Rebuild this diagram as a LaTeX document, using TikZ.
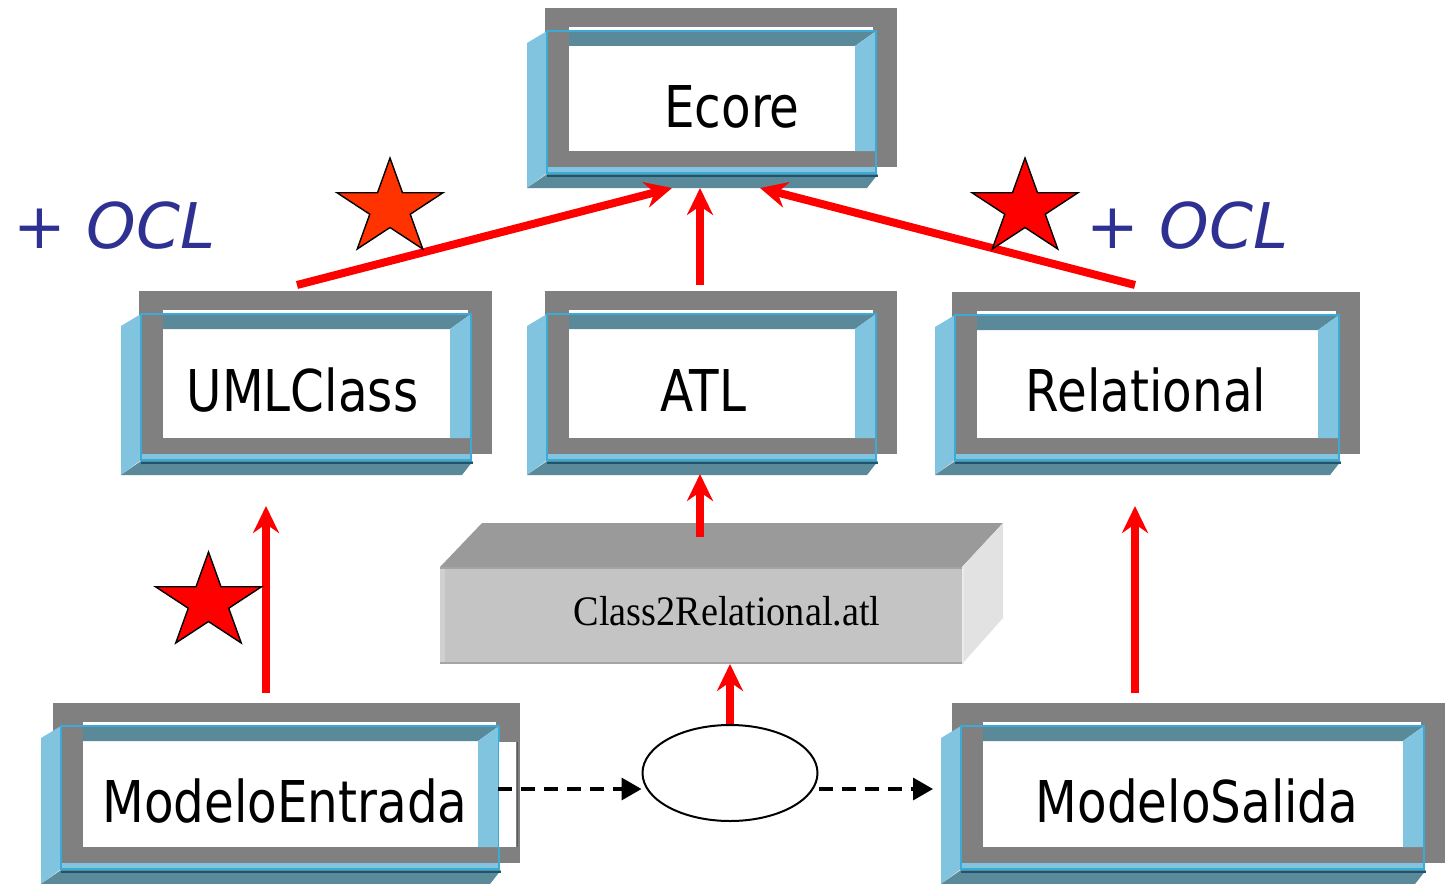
\documentclass[tikz,border=0pt]{standalone}
\usepackage{fontspec}
\usepackage{graphicx}
\usetikzlibrary{arrows.meta,shapes.geometric}
\newfontfamily\boxfont{DejaVu Sans}
\newfontfamily\oclfont{DejaVu Sans Oblique}
\newfontfamily\atlfont{Liberation Serif}
\definecolor{lblue}{RGB}{128,196,224}
\definecolor{tealband}{RGB}{90,138,154}
\definecolor{gframe}{RGB}{128,128,128}
\definecolor{edgeblue}{RGB}{60,170,214}
\definecolor{darkteal}{RGB}{30,85,110}
\definecolor{oclblue}{RGB}{46,49,146}
\definecolor{starorange}{RGB}{255,51,0}
\definecolor{ctop}{RGB}{154,154,154}
\definecolor{cfront}{RGB}{196,196,196}
\definecolor{cside}{RGB}{226,226,226}
\newcommand\bt[1]{\scalebox{0.84}[1]{#1}}
% framed 3D box: #1 fx0, #2 fy0, #3 fx1, #4 fy1, #5 left offset of the gray frame
\newcommand\mfbox[5]{%
  \fill[gframe] (#1-#5,#2-23) rectangle (#3+21,#4-6);
  \fill[white] (#1+22,#2-4) rectangle (#3-3,#4-22);
  \fill[lblue] (#1-20,#2+12) -- (#1,#2) -- (#1,#4) -- (#1-20,#4+15) -- cycle;
  \fill[tealband] (#1+22,#2) -- (#3,#2) -- (#3-21,#2+15) -- (#1+22,#2+15) -- cycle;
  \fill[lblue] (#3-21,#2+15) -- (#3,#2) -- (#3,#4-22) -- (#3-21,#4-22) -- cycle;
  \fill[lblue] (#1,#4-6) rectangle (#3,#4);
  \fill[tealband] (#1-20,#4+15) -- (#1,#4+1) -- (#3+2,#4+1) -- (#3-9,#4+15) -- cycle;
  \draw[darkteal, line width=2pt] (#1,#4+3) -- (#3+2,#4+3);
  \draw[edgeblue, line width=1.2pt] (#1,#2) rectangle (#3,#4);
}
% star: #1 cx, #2 cy, #3 colour
\newcommand\starat[3]{%
  \begin{scope}[shift={(#1,#2)}, xscale=55.7, yscale=50.3]
    \filldraw[fill=#3, draw=black, line width=1.4pt, line join=miter]
      (0,-1) -- (0.2245,-0.309) -- (0.951,-0.309) -- (0.3633,0.118) -- (0.588,0.809)
      -- (0,0.382) -- (-0.588,0.809) -- (-0.3633,0.118) -- (-0.951,-0.309)
      -- (-0.2245,-0.309) -- cycle;
  \end{scope}}
\tikzset{
  area/.style={draw=none, fill=none, inner sep=0, outer sep=0, rectangle},
  boxtext/.style={font=\boxfont\fontsize{57.6}{60}\selectfont, inner sep=0, anchor=base},
  ocltext/.style={font=\oclfont\fontsize{63}{66}\selectfont, text=oclblue, inner sep=0, anchor=base},
  redarr/.style={draw=red, line width=8pt, -{Stealth[length=27pt,width=26pt,inset=9pt]}},
  dasharr/.style={draw=black, line width=3.5pt, dash pattern=on 14pt off 9pt,
    -{Triangle[length=20pt,width=22pt]}},
}
\begin{document}
\begin{tikzpicture}[x=1pt,y=-1pt]
\useasboundingbox (0,0) rectangle (1455,883);
\fill[white] (0,0) rectangle (1455,883);

% boxes
\mfbox{547}{31}{876}{173}{2}
\mfbox{141}{314}{471}{460}{2}
\mfbox{547}{314}{876}{460}{2}
\mfbox{955}{315}{1339}{460}{3}
\mfbox{61}{726}{499}{869}{8}
% hollow right bar of ModeloEntrada
\fill[white] (499,742) rectangle (516,847);
\draw[gframe!70!black, line width=0.8pt] (517,742) -- (517,847);
\mfbox{961}{726}{1424}{869}{9}

% Class2Relational block
\fill[ctop] (440,567) -- (482,523) -- (1003,523) -- (962,567) -- cycle;
\fill[cside] (962,567) -- (1003,523) -- (1003,618) -- (962,664) -- cycle;
\fill[cfront] (440,567) rectangle (962,664);
\fill[cfront!80!white] (440,567) rectangle (445,664);
\draw[ctop!90!white, line width=1.5pt] (440,568) -- (962,568);
\draw[ctop!90!white, line width=1.5pt] (440,663) -- (962,663);
\draw[white!92!black, line width=1.5pt] (963,567) -- (963,664);

% named areas
\node[area, minimum width=370pt, minimum height=181pt] (ecore) at (712,97.5) {};
\node[area, minimum width=368pt, minimum height=189pt] (uml) at (306,379.5) {};
\node[area, minimum width=370pt, minimum height=189pt] (atl) at (712,379.5) {};
\node[area, minimum width=425pt, minimum height=189pt] (rel) at (1145.5,379.5) {};
\node[area, minimum width=484pt, minimum height=190pt] (me) at (277,788) {};
\node[area, minimum width=512pt, minimum height=190pt] (ms) at (1189,788) {};
\node[area, minimum width=563pt, minimum height=141pt] (c2r) at (721.5,593.5) {};
\node[draw=black, line width=2pt, fill=white, ellipse, minimum width=175pt, minimum height=96pt, inner sep=0] (ell) at (730,773) {};

% texts
\node[boxtext] (tEcore) at (732,127) {\bt{Ecore}};
\node[boxtext] (tUml) at (302.5,411) {\bt{UMLClass}};
\node[boxtext] (tAtl) at (703,411) {\bt{ATL}};
\node[boxtext] (tRel) at (1146,411) {\bt{Relational}};
\node[boxtext] (tMe) at (285,822) {\bt{ModeloEntrada}};
\node[boxtext] (tMs) at (1197,822) {\bt{ModeloSalida}};
\node[font=\atlfont\fontsize{42}{44}\selectfont, inner sep=0, anchor=base] (tC2r) at (727,625) {\scalebox{0.91}[1]{Class2Relational.atl}};
\node[ocltext] (ocl1) at (114.5,248) {+ OCL};
\node[ocltext] (ocl2) at (1187.5,248) {+ OCL};

% red connectors
\draw[redarr] ([xshift=-9pt]uml.north) -- ([xshift=-40pt]ecore.south);
\draw[redarr] ([xshift=-12pt]atl.north) -- ([xshift=-12pt]ecore.south);
\draw[redarr] ([xshift=-10.5pt]rel.north) -- ([xshift=48pt]ecore.south);
\draw[redarr] ([xshift=-21.5pt,yshift=-14pt]c2r.north) -- ([xshift=-12pt]atl.south);
\draw[redarr] (ell.north) -- (ell.north |- c2r.south);
\draw[redarr, shorten >=32pt] ([xshift=-11pt]me.north) -- ([xshift=-40pt]uml.south);
\draw[redarr, shorten >=32pt] ([xshift=-54pt]ms.north) -- ([xshift=-10.5pt]rel.south);

% dashed connectors
\draw[dasharr] ([xshift=-21pt]me.east |- ell.center) ++(0,16) coordinate (ds1) -- (ds1 -| ell.west);
\draw[dasharr] (ell.east |- ds1) coordinate (ds2) -- (ds2 -| ms.west);

% stars
\starat{390}{208.3}{starorange}
\starat{1025}{208.3}{red}
\starat{208.5}{602.3}{red}
\end{tikzpicture}
\end{document}
